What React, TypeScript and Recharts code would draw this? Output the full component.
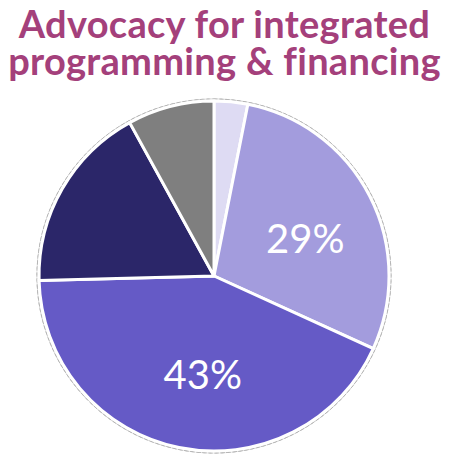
import { PieChart, Pie, Cell } from "recharts";

const categories = ["A", "B", "C", "D", "E"];
const values = [3.1, 28.7, 42.8, 17.4, 8];
const colors = ["#DEDBF3", "#A39CDD", "#655AC6", "#2B2669", "#7F7F7F"];
const shownLabels = ["", "29%", "43%", "", ""];

const data = categories.map((name, i) => ({ name, value: values[i] }));
const ring = [{ name: "outline", value: 1 }];

// small nudges so labels sit where the original deck put them
const labelNudge = [
  [0, 0],
  [1, 8],
  [9, -1],
  [0, 0],
  [0, 0],
];

const RAD = Math.PI / 180;

function renderLabel(props: any) {
  const { cx, cy, midAngle, outerRadius, index } = props;
  const text = shownLabels[index];
  if (!text) return null;
  const r = outerRadius * 0.58;
  const x = cx + r * Math.cos(-midAngle * RAD) + labelNudge[index][0];
  const y = cy + r * Math.sin(-midAngle * RAD) + labelNudge[index][1];
  return (
    <text
      x={x}
      y={y}
      fill="#ffffff"
      textAnchor="middle"
      dominantBaseline="central"
      fontSize={40}
      fontFamily="Lato, sans-serif"
    >
      {text}
    </text>
  );
}

const titleStyle: React.CSSProperties = {
  position: "absolute",
  left: 0,
  width: 449,
  textAlign: "center",
  color: "#A4407B",
  fontFamily: "Lato, sans-serif",
  fontWeight: 700,
  fontSize: 38,
  letterSpacing: 0.3,
  lineHeight: "38px",
  whiteSpace: "nowrap",
};

export default function App() {
  return (
    <div style={{ position: "absolute", left: 0, top: 0, width: 449, height: 458, background: "#fff" }}>
      <PieChart width={449} height={458} margin={{ top: 0, right: 0, bottom: 0, left: 0 }}>
        <Pie
          data={ring}
          dataKey="value"
          cx={214}
          cy={276}
          innerRadius={177}
          outerRadius={177}
          startAngle={90}
          endAngle={-270}
          fill="none"
          stroke="#b5b5b5"
          strokeWidth={1}
          strokeDasharray="4 2"
          isAnimationActive={false}
        />
        <Pie
          data={data}
          dataKey="value"
          cx={214}
          cy={276}
          outerRadius={175}
          startAngle={90}
          endAngle={-270}
          stroke="#ffffff"
          strokeWidth={3}
          label={renderLabel}
          labelLine={false}
          isAnimationActive={false}
        >
          {data.map((d, i) => (
            <Cell key={d.name} fill={colors[i]} />
          ))}
        </Pie>
      </PieChart>
      <div style={{ ...titleStyle, top: 4 }}>Advocacy for integrated</div>
      <div style={{ ...titleStyle, top: 41 }}>programming &amp; financing</div>
    </div>
  );
}
